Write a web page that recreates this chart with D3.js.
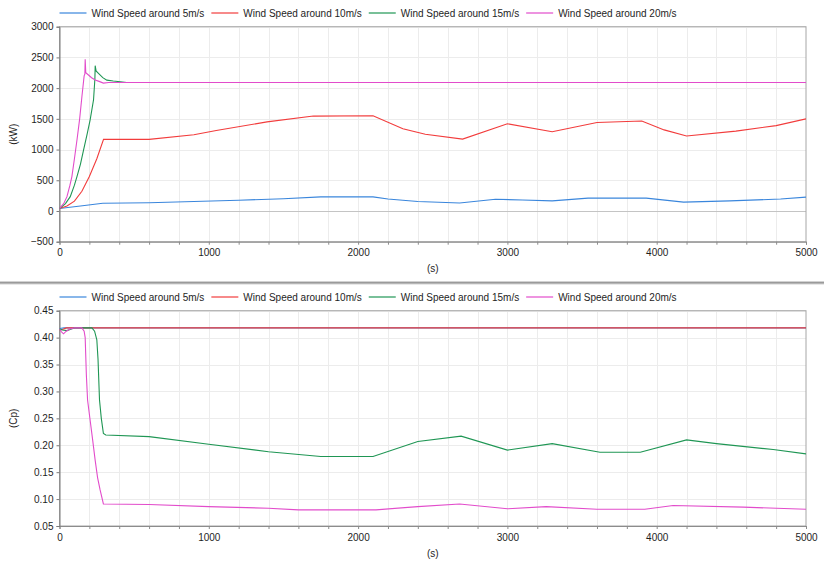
<!DOCTYPE html>
<html>
<head>
<meta charset="utf-8">
<script src="https://cdn.jsdelivr.net/npm/d3@7"></script>
<style>
  body { margin: 0; background: #ffffff; }
  text { font-family: "Liberation Sans", Arial, sans-serif; font-size: 10px; fill: #1e1e1e; }
</style>
</head>
<body>
<svg id="chart" width="824" height="561"></svg>
<script>
// legend labels, same for both panels
var seriesLabels = ["Wind Speed around 5m/s", "Wind Speed around 10m/s", "Wind Speed around 15m/s", "Wind Speed around 20m/s"];
var seriesColors = ["#3a86dc", "#f23c3c", "#1f9654", "#e24ccb"];

var xTicks = [0, 1000, 2000, 3000, 4000, 5000];
var powerTicks = [-500, 0, 500, 1000, 1500, 2000, 2500, 3000];
var cpTicks = [0.05, 0.10, 0.15, 0.20, 0.25, 0.30, 0.35, 0.40, 0.45];

// power (kW)
var powerTime5 = [0, 140, 290, 600, 900, 1200, 1500, 1750, 2100, 2200, 2400, 2680, 2920, 3100, 3300, 3540, 3930, 4180, 4490, 4830, 5000];
var power5 = [40, 80, 125, 135, 155, 175, 200, 230, 230, 195, 155, 130, 190, 180, 165, 210, 210, 145, 165, 195, 225];

var powerTime10 = [0, 50, 100, 150, 200, 250, 295, 600, 900, 1050, 1390, 1700, 2100, 2300, 2450, 2700, 3000, 3300, 3600, 3900, 4050, 4200, 4530, 4800, 5000];
var power10 = [40, 80, 160, 320, 560, 850, 1165, 1165, 1240, 1310, 1450, 1545, 1550, 1340, 1250, 1170, 1420, 1290, 1440, 1465, 1320, 1220, 1300, 1390, 1500];

var powerTime15 = [0, 40, 72, 100, 117, 140, 161, 185, 205, 228, 237, 239, 245, 261, 290, 317, 360, 406, 450, 5000];
var power15 = [40, 120, 233, 420, 560, 760, 990, 1250, 1480, 1810, 2150, 2365, 2280, 2240, 2170, 2130, 2115, 2105, 2092, 2092];

var powerTime20 = [0, 30, 50, 70, 83, 100, 117, 135, 150, 165, 170, 172, 176, 194, 215, 239, 265, 294, 330, 5000];
var power20 = [40, 130, 233, 420, 560, 850, 1156, 1500, 1860, 2200, 2230, 2470, 2250, 2214, 2170, 2132, 2110, 2082, 2092, 2092];

// power coefficient
var cpTime5 = [0, 30, 5000];
var cp5 = [0.417, 0.418, 0.418];

var cpTime10 = [0, 20, 45, 5000];
var cp10 = [0.414, 0.415, 0.418, 0.418];

var cpTime15 = [0, 20, 50, 80, 100, 217, 235, 250, 258, 268, 280, 294, 310, 600, 1000, 1400, 1750, 2100, 2400, 2690, 3000, 3300, 3620, 3890, 4200, 4400, 4780, 5000];
var cp15 = [0.416, 0.414, 0.413, 0.416, 0.418, 0.418, 0.412, 0.396, 0.36, 0.284, 0.25, 0.222, 0.219, 0.216, 0.202, 0.188, 0.179, 0.179, 0.207, 0.217, 0.191, 0.203, 0.187, 0.187, 0.210, 0.203, 0.192, 0.184];

var cpTime20 = [0, 15, 27, 45, 70, 100, 150, 165, 172, 180, 188, 205, 222, 239, 255, 272, 294, 600, 1000, 1400, 1600, 2120, 2400, 2680, 3000, 3260, 3600, 3920, 4110, 4580, 5000];
var cp20 = [0.416, 0.41, 0.407, 0.412, 0.416, 0.418, 0.418, 0.412, 0.40, 0.33, 0.284, 0.247, 0.21, 0.172, 0.14, 0.117, 0.091, 0.090, 0.086, 0.083, 0.080, 0.080, 0.086, 0.091, 0.082, 0.086, 0.081, 0.081, 0.088, 0.085, 0.081];

function zipSeries(times, values) {
  return times.map(function(t, i) { return { t: t, v: values[i] }; });
}

var svg = d3.select("#chart");
var plotLeft = 59.5, plotRight = 806;

function drawPanel(opts) {
  var g = svg.append("g");

  var x = d3.scaleLinear().domain([0, 5000]).range([plotLeft, plotRight]);
  var y = d3.scaleLinear().domain(opts.yDomain).range([opts.bottom, opts.top]);

  // grid
  g.selectAll(".vgrid")
    .data(d3.range(200, 5000, 200))
    .enter().append("line")
    .attr("x1", function(d) { return Math.round(x(d)) + 0.5; })
    .attr("x2", function(d) { return Math.round(x(d)) + 0.5; })
    .attr("y1", opts.top).attr("y2", opts.bottom)
    .attr("stroke", "#ececec");

  g.selectAll(".hgrid")
    .data(opts.yTicks)
    .enter().append("line")
    .attr("x1", plotLeft).attr("x2", plotRight)
    .attr("y1", function(d) { return Math.round(y(d)) + 0.5; })
    .attr("y2", function(d) { return Math.round(y(d)) + 0.5; })
    .attr("stroke", function(d) { return (opts.zeroLine && d === 0) ? "#c4c4c4" : "#ececec"; });

  // frame
  g.append("rect")
    .attr("x", plotLeft).attr("y", opts.top)
    .attr("width", plotRight - plotLeft).attr("height", opts.bottom - opts.top)
    .attr("fill", "none").attr("stroke", "#a6a6a6");

  // axes
  var xAxis = d3.axisBottom(x)
    .tickValues(d3.range(0, 5001, 200))
    .tickSize(3).tickPadding(4.5)
    .tickFormat(function(d) { return xTicks.indexOf(d) >= 0 ? d : ""; });

  var gx = g.append("g")
    .attr("transform", "translate(0," + opts.bottom + ")")
    .call(xAxis);
  gx.select(".domain").attr("stroke", "#8c8c8c");
  gx.selectAll(".tick line").attr("stroke", "#8c8c8c");

  var yAxis = d3.axisLeft(y)
    .tickValues(opts.yTicks)
    .tickSize(3).tickPadding(3)
    .tickFormat(opts.yFormat);

  var gy = g.append("g")
    .attr("transform", "translate(" + plotLeft + ",0)")
    .call(yAxis);
  gy.select(".domain").attr("stroke", "#7a7a7a");
  gy.selectAll(".tick line").attr("stroke", "#7a7a7a");

  g.selectAll(".tick text")
    .attr("font-family", "Liberation Sans, Arial, sans-serif")
    .attr("font-size", 10)
    .attr("fill", "#1e1e1e");

  // axis titles
  g.append("text")
    .attr("x", (plotLeft + plotRight) / 2)
    .attr("y", opts.bottom + 30.5)
    .attr("text-anchor", "middle")
    .text("(s)");

  g.append("text")
    .attr("transform", "translate(16.5," + ((opts.top + opts.bottom) / 2) + ") rotate(-90)")
    .attr("text-anchor", "middle")
    .text(opts.yLabel);

  // curves
  var clipId = "clip" + opts.id;
  svg.append("clipPath").attr("id", clipId)
    .append("rect")
    .attr("x", plotLeft).attr("y", opts.top - 1)
    .attr("width", plotRight - plotLeft).attr("height", opts.bottom - opts.top + 2);

  var line = d3.line()
    .x(function(d) { return x(d.t); })
    .y(function(d) { return y(d.v); });

  g.append("g").attr("clip-path", "url(#" + clipId + ")")
    .selectAll("path")
    .data(opts.series)
    .enter().append("path")
    .attr("d", line)
    .attr("fill", "none")
    .attr("stroke", function(d, i) { return seriesColors[i]; })
    .attr("stroke-width", 1.1);

  // legend
  var lg = g.append("g").attr("transform", "translate(0," + opts.legendY + ")");
  var cursor = plotLeft;
  seriesLabels.forEach(function(label, i) {
    lg.append("line")
      .attr("x1", cursor).attr("x2", cursor + 27)
      .attr("y1", 0.5).attr("y2", 0.5)
      .attr("stroke", seriesColors[i]).attr("stroke-width", 1.2);
    var t = lg.append("text")
      .attr("x", cursor + 32).attr("y", 4)
      .text(label);
    cursor += 32 + t.node().getComputedTextLength() + 7;
  });
}

drawPanel({
  id: 1, top: 26.7, bottom: 241.7, legendY: 12.5,
  yDomain: [-500, 3000], yTicks: powerTicks, yFormat: d3.format("d"),
  yLabel: "(kW)", zeroLine: true,
  series: [zipSeries(powerTime5, power5), zipSeries(powerTime10, power10),
           zipSeries(powerTime15, power15), zipSeries(powerTime20, power20)]
});

drawPanel({
  id: 2, top: 310.7, bottom: 526, legendY: 296.5,
  yDomain: [0.05, 0.45], yTicks: cpTicks, yFormat: d3.format(".2f"),
  yLabel: "(Cp)", zeroLine: false,
  series: [zipSeries(cpTime5, cp5), zipSeries(cpTime10, cp10),
           zipSeries(cpTime15, cp15), zipSeries(cpTime20, cp20)]
});

// splitter between the two plot windows
svg.append("rect")
  .attr("x", 0).attr("y", 281).attr("width", 824).attr("height", 3.5)
  .attr("fill", "#d2d2d2");
svg.append("line")
  .attr("x1", 0).attr("x2", 824).attr("y1", 282.75).attr("y2", 282.75)
  .attr("stroke", "#9a9a9a").attr("stroke-width", 1.5);
</script>
</body>
</html>
